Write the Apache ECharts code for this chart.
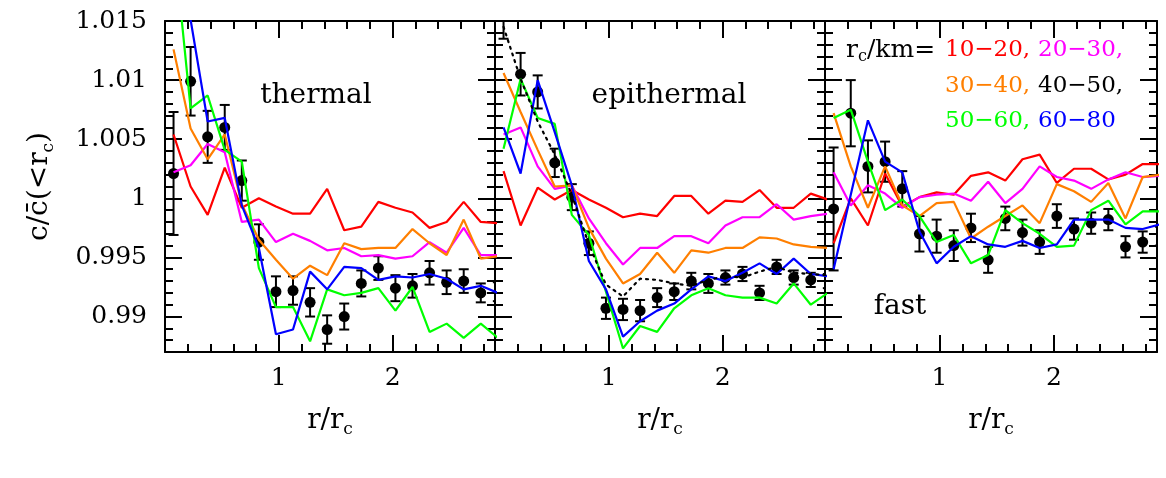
<!DOCTYPE html>
<html>
<head>
<meta charset="utf-8">
<title>c / c-bar profiles</title>
<script src="https://cdn.jsdelivr.net/npm/echarts@6/dist/echarts.min.js"></script>
<style>
    html, body { margin: 0; padding: 0; background: #fff; }
    #chart { width: 1166px; height: 478px; }
</style>
</head>
<body>
<div id="chart"></div>
<script>
    // radial bins r/r_c (bin centres)
    var rBins = [0.075, 0.225, 0.375, 0.525, 0.675, 0.825, 0.975, 1.125, 1.275, 1.425,
                 1.575, 1.725, 1.875, 2.025, 2.175, 2.325, 2.475, 2.625, 2.775, 2.925];
    var xTicks = [1, 2];
    var yTicks = [0.99, 0.995, 1, 1.005, 1.01, 1.015];

    // thermal
    var thermalRed     = [1.0054, 1.0010, 0.9986, 1.0026, 0.9992, 1.0000, 0.9993, 0.9987, 0.9987, 1.0008, 0.9973, 0.9976, 0.9997, 0.9992, 0.9988, 0.9975, 0.9980, 0.9997, 0.9980, 0.9979];
    var thermalMagenta = [1.0022, 1.0028, 1.0046, 1.0039, 0.9980, 0.9982, 0.9963, 0.9970, 0.9964, 0.9956, 0.9958, 0.9951, 0.9952, 0.9949, 0.9951, 0.9963, 0.9954, 0.9975, 0.9952, 0.9952];
    var thermalOrange  = [1.0126, 1.0059, 1.0033, 1.0054, 0.9995, 0.9965, 0.9948, 0.9932, 0.9943, 0.9935, 0.9962, 0.9957, 0.9958, 0.9958, 0.9974, 0.9962, 0.9952, 0.9982, 0.9949, 0.9951];
    var thermalGreen   = [1.0220, 1.0076, 1.0087, 1.0041, 1.0031, 0.9941, 0.9908, 0.9908, 0.9879, 0.9923, 0.9918, 0.9920, 0.9924, 0.9905, 0.9925, 0.9887, 0.9894, 0.9882, 0.9894, 0.9882];
    var thermalBlue    = [1.0240, 1.0151, 1.0065, 1.0068, 0.9994, 0.9958, 0.9885, 0.9889, 0.9938, 0.9923, 0.9942, 0.9941, 0.9931, 0.9934, 0.9933, 0.9936, 0.9932, 0.9923, 0.9926, 0.9920];
    var thermalPts     = [1.0021, 1.0099, 1.0052, 1.0060, 1.0015, 0.9963, 0.9921, 0.9922, 0.9912, 0.9889, 0.9900, 0.9928, 0.9941, 0.9924, 0.9926, 0.9937, 0.9929, 0.9930, 0.9920, 0.9921];
    var thermalErr     = [0.0052, 0.0029, 0.0022, 0.0019, 0.0017, 0.0015, 0.0013, 0.0012, 0.0012, 0.0012, 0.0011, 0.0011, 0.0010, 0.0011, 0.0010, 0.0010, 0.0010, 0.0010, 0.0008, 0.0008];

    // epithermal
    var epiRed     = [1.0023, 0.9977, 1.0009, 0.9999, 1.0007, 0.9999, 0.9992, 0.9984, 0.9987, 0.9985, 1.0002, 1.0002, 0.9987, 0.9998, 0.9997, 1.0007, 0.9992, 0.9992, 1.0004, 0.9999];
    var epiMagenta = [1.0054, 1.0060, 1.0027, 1.0008, 1.0011, 0.9983, 0.9962, 0.9944, 0.9958, 0.9958, 0.9968, 0.9968, 0.9962, 0.9977, 0.9984, 0.9984, 0.9995, 0.9982, 0.9985, 0.9987];
    var epiOrange  = [1.0106, 1.0073, 1.0041, 1.0010, 1.0011, 0.9975, 0.9949, 0.9928, 0.9936, 0.9954, 0.9937, 0.9956, 0.9954, 0.9958, 0.9958, 0.9967, 0.9966, 0.9961, 0.9959, 0.9958];
    var epiGreen   = [1.0042, 1.0101, 1.0068, 1.0063, 0.9986, 0.9969, 0.9921, 0.9873, 0.9892, 0.9887, 0.9907, 0.9918, 0.9924, 0.9918, 0.9916, 0.9916, 0.9911, 0.9928, 0.9910, 0.9920];
    var epiBlue    = [1.0060, 1.0021, 1.0100, 1.0056, 1.0011, 0.9947, 0.9923, 0.9883, 0.9896, 0.9905, 0.9911, 0.9923, 0.9934, 0.9930, 0.9937, 0.9945, 0.9936, 0.9949, 0.9936, 0.9934];
    var epiDotted  = [1.0145, 1.0101, 1.0065, 1.0037, 1.0003, 0.9961, 0.9927, 0.9917, 0.9932, 0.9931, 0.9928, 0.9926, 0.9931, 0.9934, 0.9933, 0.9938, 0.9942, 0.9937, 0.9936, 0.9935];
    var epiPts     = [1.0165, 1.0105, 1.0090, 1.0030, 1.0001, 0.9962, 0.9907, 0.9906, 0.9905, 0.9916, 0.9921, 0.9930, 0.9928, 0.9933, 0.9936, 0.9920, 0.9942, 0.9933, 0.9931, 0.9930];
    var epiErr     = [0.0030, 0.0018, 0.0014, 0.0012, 0.0011, 0.0010, 0.0009, 0.0009, 0.0009, 0.0008, 0.0007, 0.0007, 0.0008, 0.0006, 0.0006, 0.0006, 0.0006, 0.0006, 0.0006, 0.0006];

    // fast
    var fastRed     = [0.9962, 1.0000, 0.9977, 1.0021, 0.9993, 1.0001, 1.0005, 1.0003, 1.0019, 1.0022, 1.0015, 1.0033, 1.0037, 1.0013, 1.0025, 1.0025, 1.0016, 1.0020, 1.0029, 1.0029];
    var fastMagenta = [1.0022, 0.9994, 1.0011, 1.0004, 0.9992, 1.0001, 1.0003, 1.0004, 0.9998, 1.0014, 0.9996, 1.0008, 1.0027, 1.0018, 1.0015, 1.0008, 1.0016, 1.0022, 1.0018, 1.0019];
    var fastOrange  = [1.0072, 1.0027, 0.9992, 1.0027, 0.9994, 0.9985, 0.9996, 0.9997, 0.9966, 0.9976, 0.9985, 0.9994, 0.9979, 1.0012, 1.0006, 0.9997, 1.0013, 0.9983, 1.0018, 1.0020];
    var fastGreen   = [1.0068, 1.0075, 1.0031, 0.9990, 0.9999, 0.9985, 0.9963, 0.9969, 0.9945, 0.9952, 0.9990, 0.9979, 0.9970, 0.9959, 0.9960, 0.9990, 0.9998, 0.9978, 0.9989, 0.9989];
    var fastBlue    = [0.9940, 1.0003, 1.0066, 1.0031, 1.0022, 0.9972, 0.9945, 0.9959, 0.9968, 0.9961, 0.9959, 0.9964, 0.9958, 0.9961, 0.9982, 0.9982, 0.9982, 0.9975, 0.9974, 0.9978];
    var fastPts     = [0.9991, 1.0072, 1.0027, 1.0031, 1.0008, 0.9970, 0.9968, 0.9960, 0.9975, 0.9948, 0.9983, 0.9971, 0.9963, 0.9985, 0.9974, 0.9979, 0.9982, 0.9959, 0.9963, 0.9968];
    var fastErr     = [0.0052, 0.0028, 0.0022, 0.0017, 0.0015, 0.0015, 0.0014, 0.0013, 0.0012, 0.0011, 0.0010, 0.0011, 0.0010, 0.0010, 0.0009, 0.0009, 0.0009, 0.0009, 0.0009, 0.0008];

    var colors = { red: '#ff0000', magenta: '#ff00ff', orange: '#ff7f00', green: '#00ff00', blue: '#0000ff' };
    var font = 'DejaVu Serif';

    var panels = [
        { lines: [thermalRed, thermalMagenta, thermalOrange, thermalGreen, thermalBlue], pts: thermalPts, err: thermalErr },
        { lines: [epiRed, epiMagenta, epiOrange, epiGreen, epiBlue], pts: epiPts, err: epiErr, dotted: epiDotted },
        { lines: [fastRed, fastMagenta, fastOrange, fastGreen, fastBlue], pts: fastPts, err: fastErr }
    ];
    var lineColors = [colors.red, colors.magenta, colors.orange, colors.green, colors.blue];

    function zip(vals) {
        return vals.map(function (v, k) { return [rBins[k], v]; });
    }

    var black = { color: '#000', width: 2 };
    var nameRich = {
        a: { fontFamily: font, fontSize: 28, color: '#000', lineHeight: 34 },
        s: { fontFamily: font, fontSize: 17, color: '#000', lineHeight: 14, verticalAlign: 'bottom' }
    };
    var grids = [], xAxes = [], yAxes = [], series = [];

    panels.forEach(function (p, i) {
        grids.push({ left: 165 + 330 * i, top: 21, width: i === 2 ? 332 : 330, height: 331 });

        ['bottom', 'top'].forEach(function (pos) {
            xAxes.push({
                type: 'value', gridIndex: i, position: pos, min: 0, max: 2.9,
                name: pos === 'bottom' ? '{a|r/r}{s|c}' : '',
                nameLocation: 'middle', nameGap: 52,
                nameTextStyle: { rich: nameRich },
                axisLine: { show: true, onZero: false, lineStyle: black },
                axisTick: { show: true, inside: true, length: 17, customValues: xTicks, lineStyle: black },
                axisLabel: {
                    show: pos === 'bottom', customValues: xTicks, margin: 14,
                    fontFamily: font, fontSize: 25, color: '#000'
                },
                splitLine: { show: false }
            });
            // minor ticks every 0.2
            xAxes.push({
                type: 'value', gridIndex: i, position: pos, min: 0, max: 2.9, interval: 0.2,
                axisLine: { show: false, onZero: false },
                axisTick: { show: true, inside: true, length: 8, lineStyle: black },
                axisLabel: { show: false },
                splitLine: { show: false }
            });
        });

        ['left', 'right'].forEach(function (pos) {
            var labelled = (pos === 'left' && i === 0);
            yAxes.push({
                type: 'value', gridIndex: i, position: pos, min: 0.987, max: 1.015,
                name: labelled ? '{a|c/c\u0304(<r}{s|c}{a|)}' : '',
                nameLocation: 'middle', nameRotate: 90, nameGap: 108,
                nameTextStyle: { rich: nameRich },
                axisLine: { show: true, onZero: false, lineStyle: black },
                axisTick: { show: true, inside: true, length: 17, customValues: yTicks, lineStyle: black },
                axisLabel: {
                    show: labelled, customValues: yTicks, margin: 18,
                    fontFamily: font, fontSize: 25, color: '#000',
                    formatter: function (v) { return String(+(+v).toFixed(3)); }
                },
                splitLine: { show: false }
            });
            // minor ticks every 0.001
            yAxes.push({
                type: 'value', gridIndex: i, position: pos, min: 0.987, max: 1.015, interval: 0.001,
                axisLine: { show: false, onZero: false },
                axisTick: { show: true, inside: true, length: 8, lineStyle: black },
                axisLabel: { show: false },
                splitLine: { show: false }
            });
        });

        var xi = 4 * i, yi = 4 * i;
        p.lines.forEach(function (vals, j) {
            series.push({
                type: 'line', xAxisIndex: xi, yAxisIndex: yi, data: zip(vals),
                showSymbol: false, clip: true,
                lineStyle: { color: lineColors[j], width: 2.2 }
            });
        });
        if (p.dotted) {
            series.push({
                type: 'line', xAxisIndex: xi, yAxisIndex: yi, data: zip(p.dotted),
                showSymbol: false, clip: true,
                lineStyle: { color: '#000', width: 2.2, type: [2, 5], cap: 'round' }
            });
        }
        // error bars
        series.push({
            type: 'custom', xAxisIndex: xi, yAxisIndex: yi, clip: true,
            data: p.pts.map(function (v, k) { return [rBins[k], v, p.err[k]]; }),
            renderItem: function (params, api) {
                var x = api.value(0), y = api.value(1), e = api.value(2);
                var hi = api.coord([x, y + e]);
                var lo = api.coord([x, y - e]);
                var st = { stroke: '#000', lineWidth: 2 };
                return {
                    type: 'group',
                    children: [
                        { type: 'line', shape: { x1: hi[0], y1: hi[1], x2: lo[0], y2: lo[1] }, style: st },
                        { type: 'line', shape: { x1: hi[0] - 5, y1: hi[1], x2: hi[0] + 5, y2: hi[1] }, style: st },
                        { type: 'line', shape: { x1: lo[0] - 5, y1: lo[1], x2: lo[0] + 5, y2: lo[1] }, style: st }
                    ]
                };
            }
        });
        series.push({
            type: 'scatter', xAxisIndex: xi, yAxisIndex: yi, data: zip(p.pts),
            symbol: 'circle', symbolSize: 11, itemStyle: { color: '#000', opacity: 1 }
        });
    });

    function label(text, x, y, color, size) {
        return {
            type: 'text', x: x, y: y,
            style: { text: text, fill: color, fontFamily: font, fontSize: size, verticalAlign: 'middle' }
        };
    }

    var graphics = [
        { type: 'text', x: 316, y: 96, style: { text: 'thermal', fill: '#000', fontFamily: font, fontSize: 28, align: 'center', verticalAlign: 'middle' } },
        { type: 'text', x: 669, y: 96, style: { text: 'epithermal', fill: '#000', fontFamily: font, fontSize: 28, align: 'center', verticalAlign: 'middle' } },
        { type: 'text', x: 900, y: 307, style: { text: 'fast', fill: '#000', fontFamily: font, fontSize: 28, align: 'center', verticalAlign: 'middle' } },
        {
            type: 'text', x: 846, y: 50,
            style: {
                text: '{a|r}{s|c}{a|/km=}', verticalAlign: 'middle',
                rich: {
                    a: { fontFamily: font, fontSize: 25, fill: '#000', lineHeight: 30 },
                    s: { fontFamily: font, fontSize: 16, fill: '#000', lineHeight: 12, verticalAlign: 'bottom' }
                }
            }
        },
        label('10\u221220,', 945, 50, colors.red, 23),
        label('20\u221230,', 1038, 50, colors.magenta, 23),
        label('30\u221240,', 945, 86, colors.orange, 23),
        label('40\u221250,', 1038, 86, '#000', 23),
        label('50\u221260,', 945, 121, colors.green, 23),
        label('60\u221280', 1038, 121, colors.blue, 23)
    ];

    var myChart = echarts.init(document.getElementById('chart'), null, { renderer: 'canvas' });
    myChart.setOption({
        animation: false,
        backgroundColor: '#fff',
        grid: grids,
        xAxis: xAxes,
        yAxis: yAxes,
        series: series,
        graphic: graphics
    });
</script>
</body>
</html>
